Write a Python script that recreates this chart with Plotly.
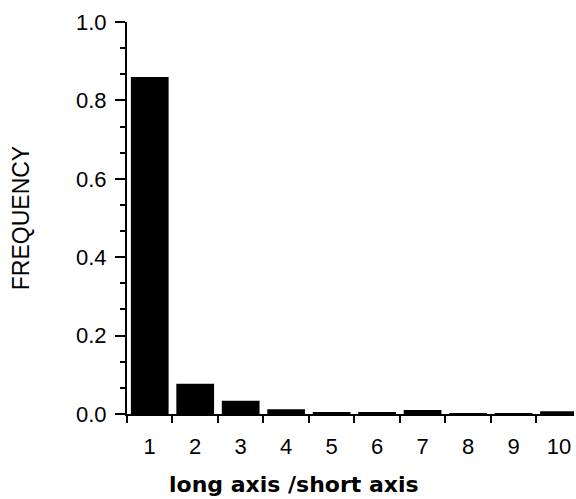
import plotly.graph_objects as go

ratio_bins = [1, 2, 3, 4, 5, 6, 7, 8, 9, 10]
frequency = [0.86, 0.077, 0.034, 0.012, 0.003, 0.003, 0.010, 0.002, 0.002, 0.007]
y_tick_vals = [0.0, 0.2, 0.4, 0.6, 0.8, 1.0]
y_tick_text = ["0.0", "0.2", "0.4", "0.6", "0.8", "1.0"]
x_tick_text = [str(v) for v in ratio_bins]
x_title = "long axis /short axis"
y_title = "FREQUENCY"

fig = go.Figure()
fig.add_trace(go.Bar(
    x=ratio_bins, y=frequency, width=0.83,
    marker=dict(color="black", line=dict(width=0)),
))

fig.update_layout(
    width=576, height=499,
    margin=dict(l=127, r=2, t=22, b=85),
    paper_bgcolor="white", plot_bgcolor="white",
    showlegend=False,
    font=dict(family="Liberation Sans, Arial, sans-serif", color="black"),
)
fig.update_xaxes(
    range=[0.5, 10.33], automargin=False,
    tickmode="array", tickvals=ratio_bins, ticktext=x_tick_text,
    ticks="", showgrid=False, zeroline=False,
    showline=True, linecolor="black", linewidth=2,
    tickfont=dict(size=22), ticklabelstandoff=12,
    minor=dict(ticks="outside", tickmode="linear", tick0=0.5, dtick=1,
               ticklen=7, tickwidth=2, tickcolor="black", showgrid=False),
)
fig.update_yaxes(
    range=[0, 1.0], automargin=False,
    tickmode="array", tickvals=y_tick_vals, ticktext=y_tick_text,
    ticks="outside", ticklen=10, tickwidth=2, tickcolor="black",
    showgrid=False, zeroline=False,
    showline=True, linecolor="black", linewidth=2,
    tickfont=dict(size=22), ticklabelstandoff=4,
    minor=dict(ticks="outside", tickmode="linear", tick0=0, dtick=0.2 / 3,
               ticklen=5, tickwidth=2, tickcolor="black", showgrid=False),
    title=dict(text=y_title, font=dict(size=23), standoff=40),
)
fig.add_annotation(
    text="<b>" + x_title + "</b>", xref="paper", yref="paper",
    x=0.3736, y=-0.181, xanchor="center", yanchor="middle",
    showarrow=False, font=dict(family="DejaVu Sans, sans-serif", size=22),
)

fig.write_html("out.html", config={"displayModeBar": False},
               post_script="document.body.style.margin='0';document.body.style.overflow='hidden';")
